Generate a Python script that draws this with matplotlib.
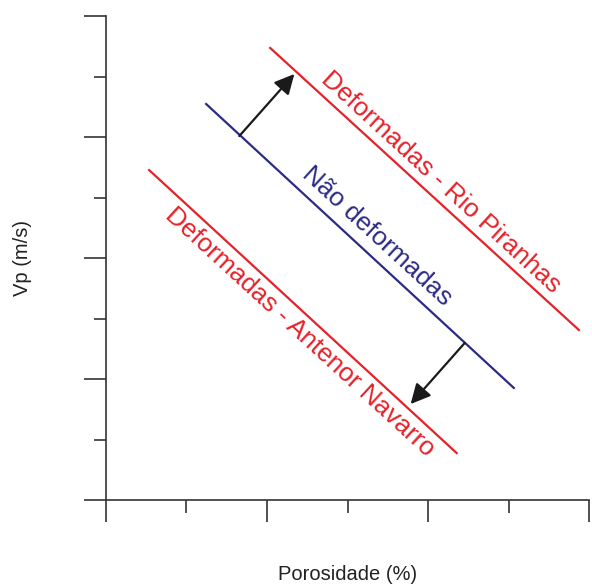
import numpy as np
from matplotlib import pyplot as plt

plt.rcParams['font.family'] = ['Liberation Sans', 'DejaVu Sans']

# linhas de tendencia (porosidade x Vp, unidades arbitrarias)
x_rio = [1.02, 2.937]
y_rio = [3.736, 1.405]

x_nao = [0.622, 2.533]
y_nao = [3.273, 0.926]

x_ant = [0.268, 2.178]
y_ant = [2.727, 0.388]

# setas: (inicio, fim)
seta_cima = [(0.828, 3.008), (1.17, 3.521)]
seta_baixo = [(2.228, 1.298), (1.892, 0.793)]

vermelho = '#e62129'
azul = '#2b2b86'


def main():

	fig = plt.figure(figsize=(5.92, 5.85), dpi=100)
	ax = fig.add_axes([0.179, 0.1453, 0.816, 0.8273])

	ax.plot(x_rio, y_rio, color=vermelho, lw=1.6, clip_on=False)
	ax.plot(x_nao, y_nao, color=azul, lw=1.6, clip_on=False)
	ax.plot(x_ant, y_ant, color=vermelho, lw=1.6, clip_on=False)

	for ini, fim in [seta_cima, seta_baixo]:
		ax.annotate('', xy=fim, xytext=ini,
			arrowprops=dict(arrowstyle='-|>,head_length=0.5,head_width=0.25', color='#1a1a1a', lw=1.6,
							mutation_scale=24, shrinkA=0, shrinkB=0))

	rot = -42.5
	ax.text(2.078, 2.628, 'Deformadas - Rio Piranhas', color=vermelho, fontsize=18.8,
			rotation=rot, rotation_mode='anchor', ha='center', va='center')
	ax.text(1.686, 2.182, 'Não deformadas', color=azul, fontsize=18.8,
			rotation=rot, rotation_mode='anchor', ha='center', va='center')
	ax.text(1.207, 1.388, 'Deformadas - Antenor Navarro', color=vermelho, fontsize=18.8,
			rotation=rot, rotation_mode='anchor', ha='center', va='center')

	ax.set_xlim(0, 3)
	ax.set_ylim(0, 4)
	ax.set_xticks(np.arange(0, 3.01, 1.0))
	ax.set_xticks(np.arange(0.5, 3, 1.0), minor=True)
	ax.set_yticks(np.arange(0, 4.01, 1.0))
	ax.set_yticks(np.arange(0.5, 4, 1.0), minor=True)

	ax.spines['top'].set_visible(False)
	ax.spines['right'].set_visible(False)
	for s in ['left', 'bottom']:
		ax.spines[s].set_color('#333333')
		ax.spines[s].set_linewidth(1.2)

	ax.tick_params(which='major', direction='out', length=16, width=1.2, color='#333333',
				   labelbottom=False, labelleft=False)
	ax.tick_params(which='minor', direction='out', length=9, width=1.2, color='#333333')

	fig.text(22 / 592, 1 - 258 / 585, 'Vp (m/s)', fontsize=14.5, color='#222222',
			 rotation=90, ha='center', va='center')
	fig.text(348 / 592, 1 - 575 / 585, 'Porosidade (%)', fontsize=14.5, color='#222222',
			 ha='center', va='center')

	plt.savefig('out.png', dpi=100)


if __name__ == '__main__':
	main()
